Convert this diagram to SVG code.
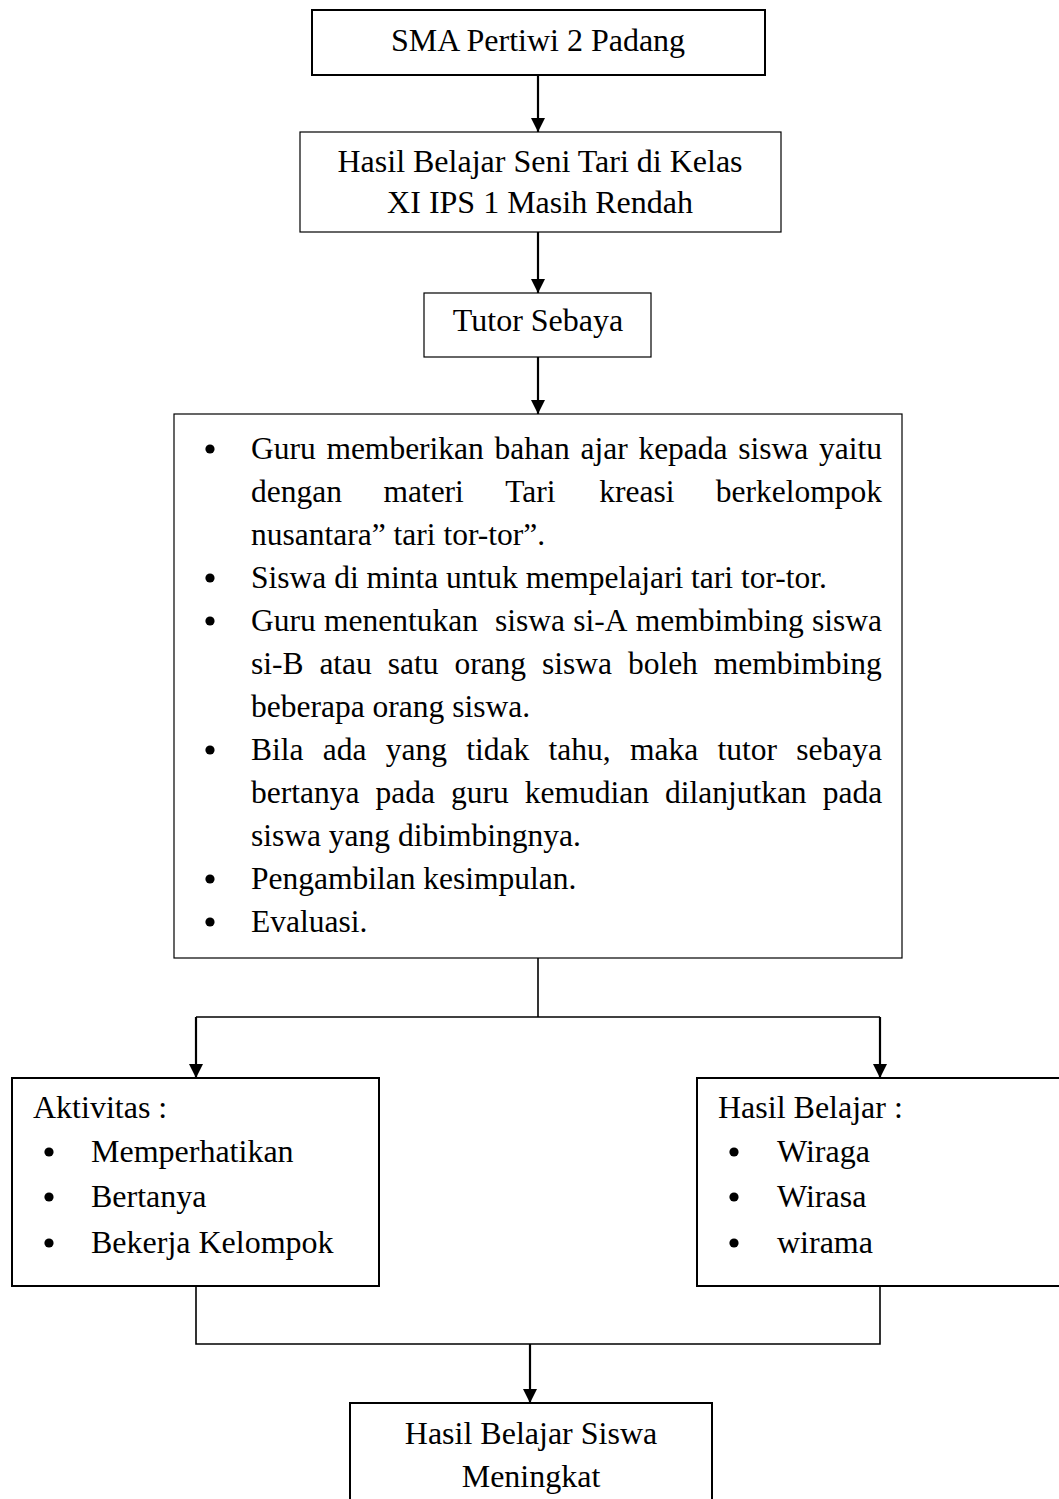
<svg xmlns="http://www.w3.org/2000/svg" width="1059" height="1499" viewBox="0 0 1059 1499">
<style>
text{font-family:"Liberation Serif","Times New Roman",serif;font-size:32px;fill:#000}
.s{font-size:31.5px}
.c{text-anchor:middle}
.b{fill:#fff;stroke:#000}
.t2{stroke-width:2}
.t1{stroke-width:1.2}
.ln{fill:none;stroke:#000;stroke-width:1.6}
.ar{fill:none;stroke:#000;stroke-width:2.2}
</style>
<defs>
<marker id="ah" markerUnits="userSpaceOnUse" markerWidth="14" markerHeight="14" viewBox="0 0 14 14" refX="14" refY="7" orient="auto">
<path d="M0,0 L14,7 L0,14 z" fill="#000"/>
</marker>
<circle id="dot" r="4.6" fill="#000"/>
</defs>
<rect width="1059" height="1499" fill="#fff"/>

<g id="connectors">
<line class="ar" x1="538" y1="75" x2="538" y2="132" marker-end="url(#ah)"/>
<line class="ar" x1="538" y1="232" x2="538" y2="293" marker-end="url(#ah)"/>
<line class="ar" x1="538" y1="357" x2="538" y2="414" marker-end="url(#ah)"/>
<polyline class="ln" points="538,958 538,1017"/>
<polyline class="ln" points="880,1017 196,1017"/>
<line class="ar" x1="196" y1="1017" x2="196" y2="1078" marker-end="url(#ah)"/>
<line class="ar" x1="880" y1="1017" x2="880" y2="1078" marker-end="url(#ah)"/>
<polyline class="ln" points="196,1286 196,1344 880,1344 880,1286"/>
<line class="ar" x1="530" y1="1344" x2="530" y2="1403" marker-end="url(#ah)"/>
</g>

<g id="n1">
<rect class="b t2" x="312" y="10" width="453" height="65"/>
<text class="c" x="538" y="51">SMA Pertiwi 2 Padang</text>
</g>

<g id="n2">
<rect class="b t1" x="300" y="132" width="481" height="100"/>
<text class="c" x="540" y="172">Hasil Belajar Seni Tari di Kelas</text>
<text class="c" x="540" y="213">XI IPS 1 Masih Rendah</text>
</g>

<g id="n3">
<rect class="b t1" x="424" y="293" width="227" height="64"/>
<text class="c" x="538" y="331">Tutor Sebaya</text>
</g>

<g id="n4">
<rect class="b t1" x="174" y="414" width="728" height="544"/>
<use href="#dot" x="210" y="449"/>
<use href="#dot" x="210" y="578"/>
<use href="#dot" x="210" y="621"/>
<use href="#dot" x="210" y="750"/>
<use href="#dot" x="210" y="879"/>
<use href="#dot" x="210" y="922"/>
<text class="s" y="459"><tspan x="251">Guru</tspan><tspan x="326.4">memberikan</tspan><tspan x="494.6">bahan</tspan><tspan x="580.5">ajar</tspan><tspan x="638.4">kepada</tspan><tspan x="738.3">siswa</tspan><tspan x="819">yaitu</tspan></text>
<text class="s" y="502"><tspan x="251">dengan</tspan><tspan x="383.4">materi</tspan><tspan x="505.3">Tari</tspan><tspan x="599.2">kreasi</tspan><tspan x="715.8">berkelompok</tspan></text>
<text class="s" x="251" y="545">nusantara” tari tor-tor”.</text>
<text class="s" x="251" y="588">Siswa di minta untuk mempelajari tari tor-tor.</text>
<text class="s" y="631"><tspan x="251">Guru</tspan><tspan x="324">menentukan</tspan><tspan x="495">siswa</tspan><tspan x="573.2">si-A</tspan><tspan x="635.7">membimbing</tspan><tspan x="812">siswa</tspan></text>
<text class="s" y="674"><tspan x="251">si-B</tspan><tspan x="319.4">atau</tspan><tspan x="387.8">satu</tspan><tspan x="454.4">orang</tspan><tspan x="542">siswa</tspan><tspan x="627.9">boleh</tspan><tspan x="713.8">membimbing</tspan></text>
<text class="s" x="251" y="717">beberapa orang siswa.</text>
<text class="s" y="760"><tspan x="251">Bila</tspan><tspan x="322.8">ada</tspan><tspan x="385.8">yang</tspan><tspan x="466.3">tidak</tspan><tspan x="548.6">tahu,</tspan><tspan x="630">maka</tspan><tspan x="717.5">tutor</tspan><tspan x="796.3">sebaya</tspan></text>
<text class="s" y="803"><tspan x="251">bertanya</tspan><tspan x="375.5">pada</tspan><tspan x="451">guru</tspan><tspan x="524.7">kemudian</tspan><tspan x="664.9">dilanjutkan</tspan><tspan x="822.7">pada</tspan></text>
<text class="s" x="251" y="846">siswa yang dibimbingnya.</text>
<text class="s" x="251" y="889">Pengambilan kesimpulan.</text>
<text class="s" x="251" y="932">Evaluasi.</text>
</g>

<g id="n5">
<rect class="b t2" x="12" y="1078" width="367" height="208"/>
<text x="33" y="1118">Aktivitas :</text>
<use href="#dot" x="49" y="1152"/>
<use href="#dot" x="49" y="1197"/>
<use href="#dot" x="49" y="1243"/>
<text x="91" y="1162">Memperhatikan</text>
<text x="91" y="1207">Bertanya</text>
<text x="91" y="1253">Bekerja Kelompok</text>
</g>

<g id="n6">
<rect class="b t2" x="697" y="1078" width="380" height="208"/>
<text x="718" y="1118">Hasil Belajar :</text>
<use href="#dot" x="734" y="1152"/>
<use href="#dot" x="734" y="1197"/>
<use href="#dot" x="734" y="1243"/>
<text x="777" y="1162">Wiraga</text>
<text x="777" y="1207">Wirasa</text>
<text x="777" y="1253">wirama</text>
</g>

<g id="n7">
<rect class="b t2" x="350" y="1403" width="362" height="120"/>
<text class="c" x="531" y="1444">Hasil Belajar Siswa</text>
<text class="c" x="531" y="1487">Meningkat</text>
</g>
</svg>
